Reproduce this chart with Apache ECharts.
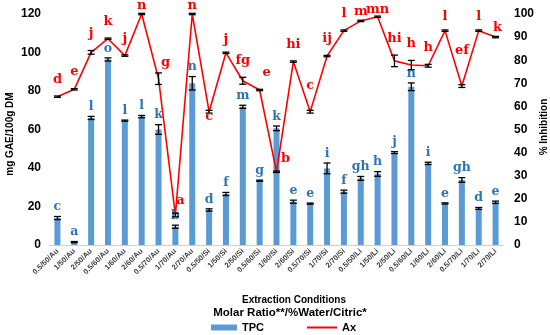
<!DOCTYPE html>
<html><head><meta charset="utf-8">
<script src="https://cdn.jsdelivr.net/npm/echarts@6/dist/echarts.min.js"></script>
<style>html,body{margin:0;padding:0;background:#fff}#c{width:550px;height:335px}</style>
</head><body><div id="c"></div>
<script>
const categories = ["0.5/50/Au","1/50/Au","2/50/Au","0.5/60/Au","1/60/Au","2/60/Au","0.5/70/Au","1/70/Au","2/70/Au",
"0.5/50/Si","1/50/Si","2/50/Si","0.5/60/Si","1/60/Si","2/60/Si","0.5/70/Si","1/70/Si","2/70/Si",
"0.5/50/Li","1/50/Li","2/50/Li","0.5/60/Li","1/60/Li","2/60/Li","0.5/70/Li","1/70/Li","2/70/Li"];
const tpcValues = [14,1.5,66,96.4,64.6,66.7,60,9.5,84,18.2,26.5,71.8,33.4,60.6,22.5,21.5,39.8,27.7,34.6,36.9,48,82.2,42.4,21.6,33.8,19,22.2];
const tpcErrors = [0.8,0.3,0.8,0.8,0.3,0.6,2.5,0.8,3.5,0.6,0.8,0.8,0.3,1.2,0.8,0.3,2.8,0.8,1,1.2,0.5,2,0.6,0.3,1.2,0.5,0.6];
const tpcLetters = ["c","a","l","o","l","l","k","b","n","d","f","m","g","k","e","e","i","f","gh","h","j","n","i","e","gh","d","e"];
const axValues = [64.2,67.4,83.4,89.3,82,100,72,13,100,57.7,83.2,71.1,67.1,31.7,79.4,57.7,81.8,92.8,97,98.8,79.7,77.9,77.6,92.8,68.8,92.8,90];
const axErrors = [0.3,0.3,0.8,0.3,0.3,0.3,2.5,0.8,0.3,0.6,0.3,1.5,0.3,0.3,0.3,0.6,0.3,0.3,0.3,0.3,2.5,2,0.6,0.3,0.6,0.3,0.3];
const axLetters = ["d","e","j","k","j","n","g","a","n","c","j","fg","e","b","hi","c","ij","l","m","mn","hi","h","h","l","ef","l","k"];
const leftTicks = {min:0,max:120,interval:20};
const rightTicks = {min:0,max:100,interval:10};

// label nudges (style, not data): [dx, dy] relative to default spot
const axLabelNudge = {6:[7,6], 7:[5,4], 9:[0,23], 10:[0,4], 12:[7,0], 13:[9,4], 15:[0,-8], 18:[0,6], 19:[0,4], 23:[0,3], 24:[0,-18], 25:[0,3], 26:[2,8]};

const chart = echarts.init(document.getElementById('c'));
const serif = '"DejaVu Serif","Liberation Serif",serif';
const sans = '"Liberation Sans",Arial,sans-serif';
function errItem(letters, letterColor, gap, nudge, fontSize){
  return function(params, api){
    const i = api.value(0), v = api.value(1), e = api.value(2);
    const t = api.coord([i, v+e]), b = api.coord([i, v-e]);
    const st = {stroke:'#000', lineWidth:1.3};
    const ch = [
      {type:'line', shape:{x1:t[0],y1:t[1],x2:b[0],y2:b[1]}, style:st},
      {type:'line', shape:{x1:t[0]-3.5,y1:t[1],x2:t[0]+3.5,y2:t[1]}, style:st},
      {type:'line', shape:{x1:b[0]-3.5,y1:b[1],x2:b[0]+3.5,y2:b[1]}, style:st}
    ];
    let lx = t[0], ly = Math.max(t[1]-gap, 12);
    const p = nudge && nudge[params.dataIndex];
    if (p){ lx += p[0]; ly += p[1]; }
    ch.push({type:'text', style:{text:letters[params.dataIndex], x:lx, y:ly, align:'center', verticalAlign:'bottom',
      fill:letterColor, font:'bold '+fontSize+'px '+serif}});
    return {type:'group', children:ch};
  };
}
const tpcErrData = tpcValues.map((v,i)=>[i,v,tpcErrors[i]]);
const axErrData = axValues.map((v,i)=>[i,v,axErrors[i]]);
const axisFont = {color:'#000', fontWeight:'bold', fontSize:12, fontFamily:sans};
const legendText = {fontWeight:'bold',fontSize:11,color:'#000',fontFamily:sans};
chart.setOption({
  animation:false,
  grid:{left:49,right:46,top:14,bottom:90},
  legend:[
    {bottom:-3,left:206,itemWidth:26,itemHeight:6,textStyle:legendText,data:[{name:'TPC',icon:'rect'}]},
    {bottom:-3,left:302,itemWidth:30,itemHeight:2,textStyle:legendText,data:[{name:'Ax',icon:'rect'}]}
  ],
  xAxis:{type:'category',data:categories,
    axisLine:{lineStyle:{color:'#d0d0d0'}},axisTick:{show:false},
    axisLabel:{rotate:45,interval:0,fontSize:7.5,fontWeight:'bold',color:'#404040',margin:5,fontFamily:sans}},
  yAxis:[
    {type:'value',min:leftTicks.min,max:leftTicks.max,interval:leftTicks.interval,splitLine:{show:false},
      axisLabel:axisFont,axisLine:{show:false},axisTick:{show:false}},
    {type:'value',min:rightTicks.min,max:rightTicks.max,interval:rightTicks.interval,splitLine:{show:false},
      axisLabel:Object.assign({},axisFont,{margin:10}),axisLine:{show:false},axisTick:{show:false}}
  ],
  series:[
    {name:'TPC',type:'bar',data:tpcValues,barWidth:6,itemStyle:{color:'#5B9BD5'},yAxisIndex:0},
    {name:'Ax',type:'line',data:axValues,yAxisIndex:1,symbol:'none',lineStyle:{color:'#FF0000',width:1.6},itemStyle:{color:'#FF0000'}},
    {type:'custom',yAxisIndex:0,data:tpcErrData,clip:false,renderItem:errItem(tpcLetters,'#2E75B6',3,null,12.5),z:5},
    {type:'custom',yAxisIndex:1,data:axErrData,clip:false,renderItem:errItem(axLetters,'#FF0000',10,axLabelNudge,13),z:6}
  ],
  graphic:[
    {type:'text',x:294,y:300,style:{text:'Extraction Conditions',align:'center',verticalAlign:'middle',font:'bold 10px '+sans,fill:'#000'}},
    {type:'text',x:290,y:313,style:{text:'Molar Ratio**/%Water/Citric*',align:'center',verticalAlign:'middle',font:'bold 11.5px '+sans,fill:'#000'}},
    {type:'text',x:10,y:134,rotation:Math.PI/2,style:{text:'mg GAE/100g DM',align:'center',verticalAlign:'middle',font:'bold 10px '+sans,fill:'#000'}},
    {type:'text',x:544,y:127,rotation:Math.PI/2,style:{text:'% Inhibition',align:'center',verticalAlign:'middle',font:'bold 10px '+sans,fill:'#000'}}
  ]
});
</script></body></html>
